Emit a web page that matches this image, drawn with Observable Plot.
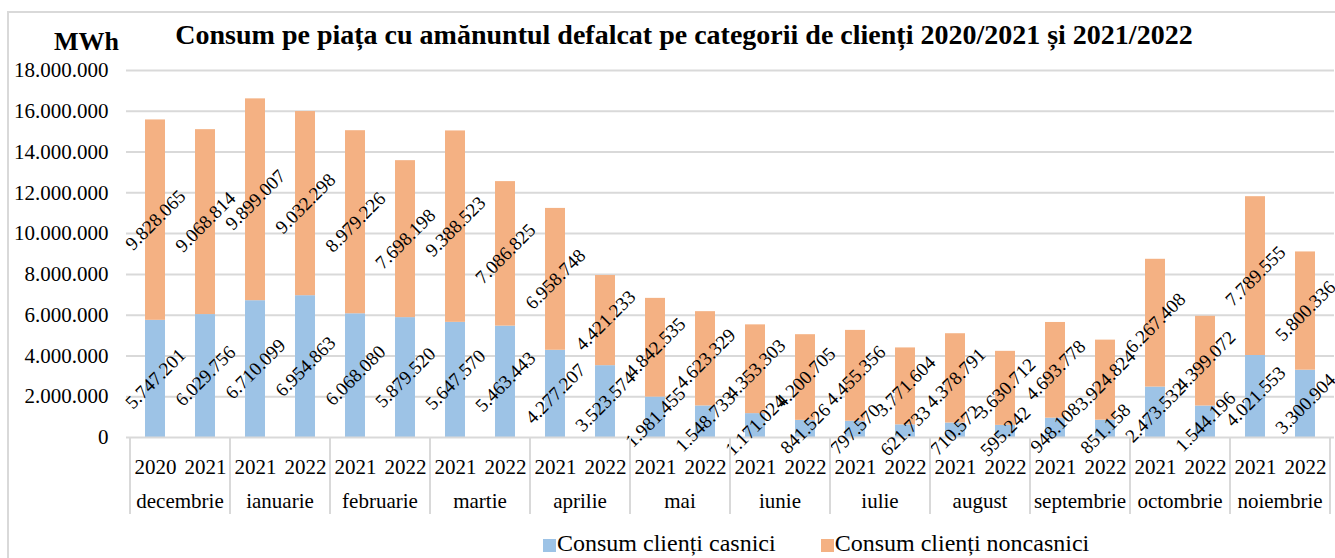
<!DOCTYPE html>
<html>
<head>
<meta charset="utf-8">
<script src="https://cdn.jsdelivr.net/npm/d3@7"></script>
<script src="https://cdn.jsdelivr.net/npm/@observablehq/plot@0.6"></script>
<style>
  html, body { margin: 0; padding: 0; background: #fff; }
  #wrap { position: relative; width: 1335px; height: 558px; overflow: hidden; font-family: "Liberation Serif", "Times New Roman", serif; color: #000; }
  #border { position: absolute; left: 7px; top: 11px; width: 1340px; height: 560px; border: 2px solid #d9d9d9; box-sizing: border-box; }
  #title { position: absolute; left: 0; top: 19px; width: 1368px; text-align: center; font-weight: bold; font-size: 28px; white-space: nowrap; }
  #unit { position: absolute; left: 54px; top: 27px; font-weight: bold; font-size: 26px; }
  #chart { position: absolute; left: 0; top: 0; }
  #legend { position: absolute; left: 543px; top: 530px; display: flex; gap: 45px; font-size: 24px; white-space: nowrap; }
  .item { display: flex; align-items: center; }
  .sw { width: 13px; height: 13px; margin-right: 1px; margin-top: 4px; }
</style>
</head>
<body>
<div id="wrap">
  <div id="border"></div>
  <div id="chart"></div>
  <div id="title">Consum pe piața cu amănuntul defalcat pe categorii de clienți 2020/2021 și 2021/2022</div>
  <div id="unit">MWh</div>
  <div id="legend"></div>
</div>
<script>
const months = ["decembrie","ianuarie","februarie","martie","aprilie","mai","iunie","iulie","august","septembrie","octombrie","noiembrie"];
const years = [["2020","2021"],["2021","2022"],["2021","2022"],["2021","2022"],["2021","2022"],["2021","2022"],["2021","2022"],["2021","2022"],["2021","2022"],["2021","2022"],["2021","2022"],["2021","2022"]];
const casnici = [5747201, 6029756, 6710099, 6954863, 6068080, 5879520, 5647570, 5463443, 4277207, 3523574, 1981455, 1548733, 1171024, 841526, 797570, 621733, 710572, 595242, 948108, 851158, 2473532, 1544196, 4021553, 3300904];
const noncasnici = [9828065, 9068814, 9899007, 9032298, 8979226, 7698198, 9388523, 7086825, 6958748, 4421233, 4842535, 4623329, 4353303, 4200705, 4455356, 3771604, 4378791, 3630712, 4693778, 3924824, 6267408, 4399072, 7789555, 5800336];
const seriesNames = ["Consum clienți casnici", "Consum clienți noncasnici"];
const seriesColors = ["#9dc3e6", "#f4b183"];
const yTicks = [0, 2000000, 4000000, 6000000, 8000000, 10000000, 12000000, 14000000, 16000000, 18000000];

const locale = d3.formatLocale({decimal: ",", thousands: ".", grouping: [3], currency: ["", ""]});
const fmt = locale.format(",d");

const keys = [];
const yearOf = {};
months.forEach((m, i) => years[i].forEach(y => { const k = m + "|" + y; keys.push(k); yearOf[k] = y; }));

const rows = [];
keys.forEach((k, i) => rows.push({key: k, series: seriesNames[0], value: casnici[i]}));
keys.forEach((k, i) => rows.push({key: k, series: seriesNames[1], value: noncasnici[i]}));

function monthRow(index, scales, values, dimensions) {
  const x = scales.x, y = scales.y;
  const bw = x.bandwidth(), step = x.step();
  const gap = (step - bw) / 2;
  const y0 = y(0);
  const g = d3.create("svg:g");
  months.forEach((m, i) => {
    const k1 = m + "|" + years[i][0], k2 = m + "|" + years[i][1];
    const left = x(k1) - gap;
    g.append("line").attr("x1", left).attr("x2", left).attr("y1", y0).attr("y2", y0 + 77)
      .attr("stroke", "#d9d9d9").attr("stroke-width", 2);
    g.append("text").attr("x", (x(k1) + x(k2) + bw) / 2).attr("y", y0 + 71)
      .attr("text-anchor", "middle").attr("font-size", 21).attr("fill", "#000").text(m);
    if (i === months.length - 1) {
      const right = x(k2) + bw + gap;
      g.append("line").attr("x1", right).attr("x2", right).attr("y1", y0).attr("y2", y0 + 77)
        .attr("stroke", "#d9d9d9").attr("stroke-width", 2);
    }
  });
  return g.node();
}

const chart = Plot.plot({
  width: 1335,
  height: 520,
  marginLeft: 126,
  marginRight: 1,
  marginTop: 70,
  marginBottom: 83,
  style: {fontFamily: "'Liberation Serif', 'Times New Roman', serif", fontSize: "21px", background: "transparent", color: "#000"},
  x: {type: "band", domain: keys, paddingInner: 0.6, paddingOuter: 0.3, label: null},
  y: {domain: [0, 18000000], label: null},
  color: {domain: seriesNames, range: seriesColors},
  marks: [
    Plot.gridY(yTicks.filter(d => d > 0), {stroke: "#d9d9d9", strokeWidth: 2, strokeOpacity: 1}),
    Plot.axisY(yTicks, {tickSize: 0, tickPadding: 18, tickFormat: fmt, fontSize: 21, label: null}),
    Plot.barY(rows, {x: "key", y: "value", fill: "series", order: seriesNames}),
    Plot.ruleY([0], {stroke: "#d9d9d9", strokeWidth: 2}),
    Plot.axisX({tickSize: 0, tickPadding: 22, tickFormat: k => yearOf[k], fontSize: 21, label: null}),
    Plot.text(rows, Plot.stackY({x: "key", y: "value", z: "series", order: seriesNames, text: d => fmt(d.value), rotate: -45, fontSize: 19, fill: "#000", textAnchor: "middle"})),
    monthRow
  ]
});
document.getElementById("chart").appendChild(chart);

const legend = document.getElementById("legend");
seriesNames.forEach((s, i) => {
  const it = document.createElement("div"); it.className = "item";
  const sw = document.createElement("div"); sw.className = "sw"; sw.style.background = seriesColors[i];
  const t = document.createElement("span"); t.textContent = s;
  it.appendChild(sw); it.appendChild(t); legend.appendChild(it);
});
</script>
</body>
</html>
